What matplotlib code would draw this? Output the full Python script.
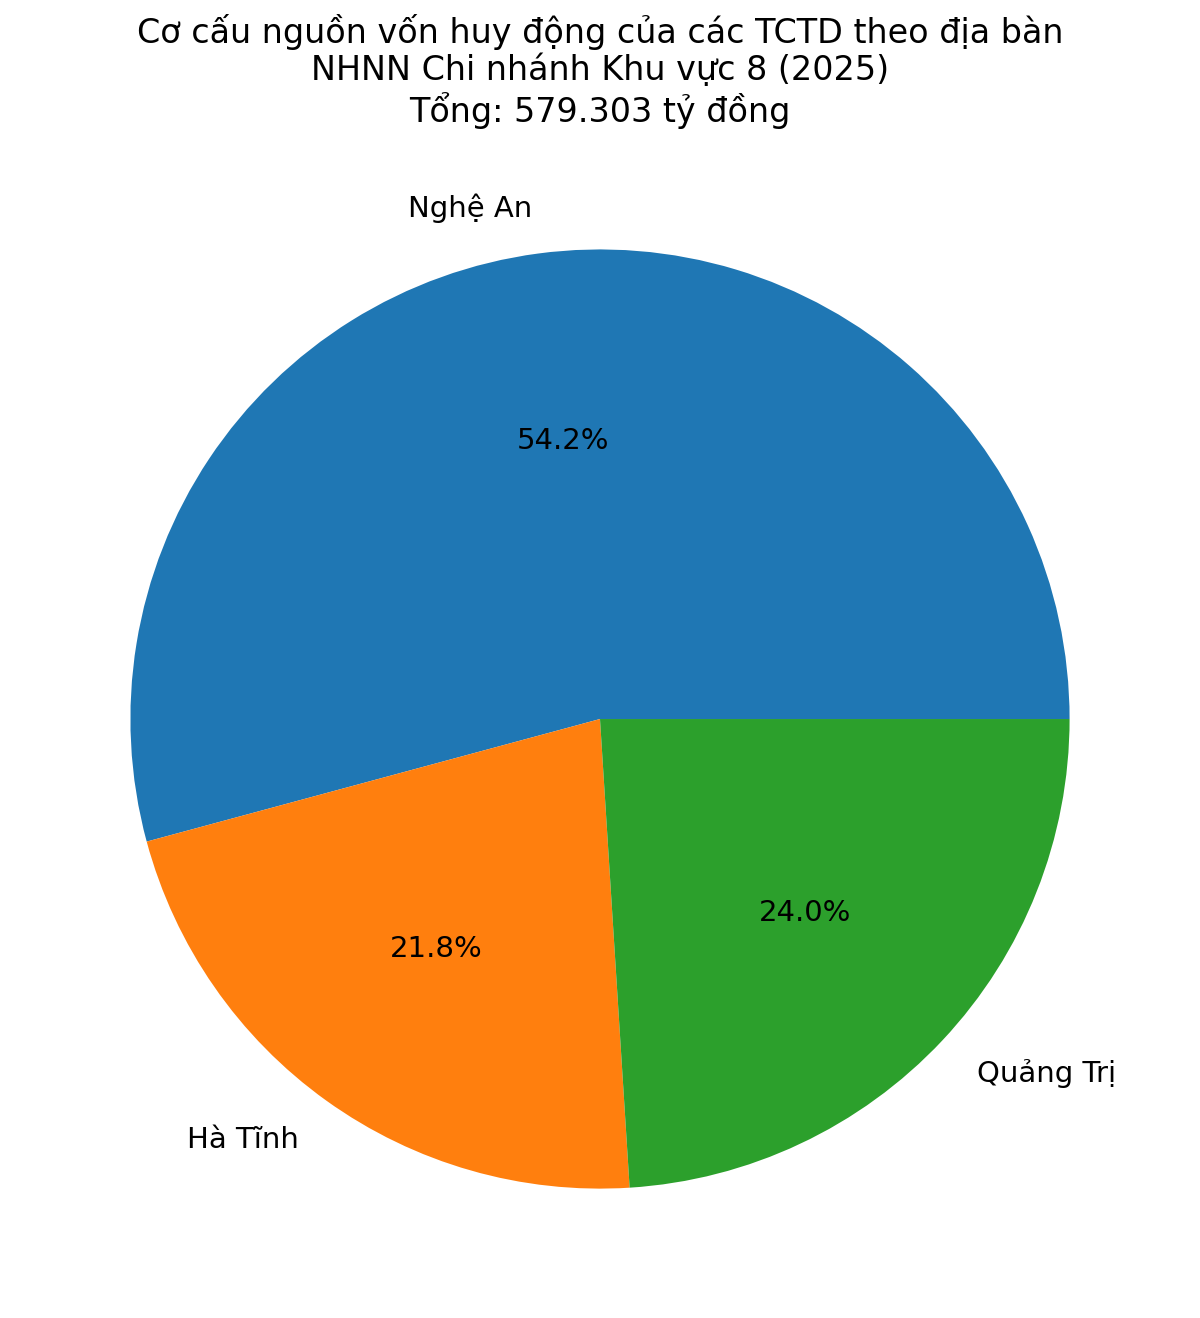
import matplotlib
matplotlib.use("Agg")
import matplotlib.pyplot as plt

# Nguồn vốn huy động theo địa bàn (tỷ đồng)
regions = ["Nghệ An", "Hà Tĩnh", "Quảng Trị"]
values = [314000, 126300, 139003]
total_label = "579.303"

fig = plt.figure(figsize=(8, 8.793), dpi=150)
# trục vuông quanh tâm bánh (600, 718) px
ax = fig.add_axes([13 / 1200, 12 / 1319, 1174 / 1200, 1174 / 1319])

ax.pie(values, labels=regions, autopct="%1.1f%%",
       textprops={"fontsize": 14})
ax.set_xlim(-1.25, 1.25)
ax.set_ylim(-1.25, 1.25)

fig.text(0.5, 1 - 14 / 1319,
         "Cơ cấu nguồn vốn huy động của các TCTD theo địa bàn\n"
         "NHNN Chi nhánh Khu vực 8 (2025)\n"
         f"Tổng: {total_label} tỷ đồng",
         ha="center", va="top", fontsize=16, linespacing=1.15)

fig.savefig("out.png", dpi=150)
